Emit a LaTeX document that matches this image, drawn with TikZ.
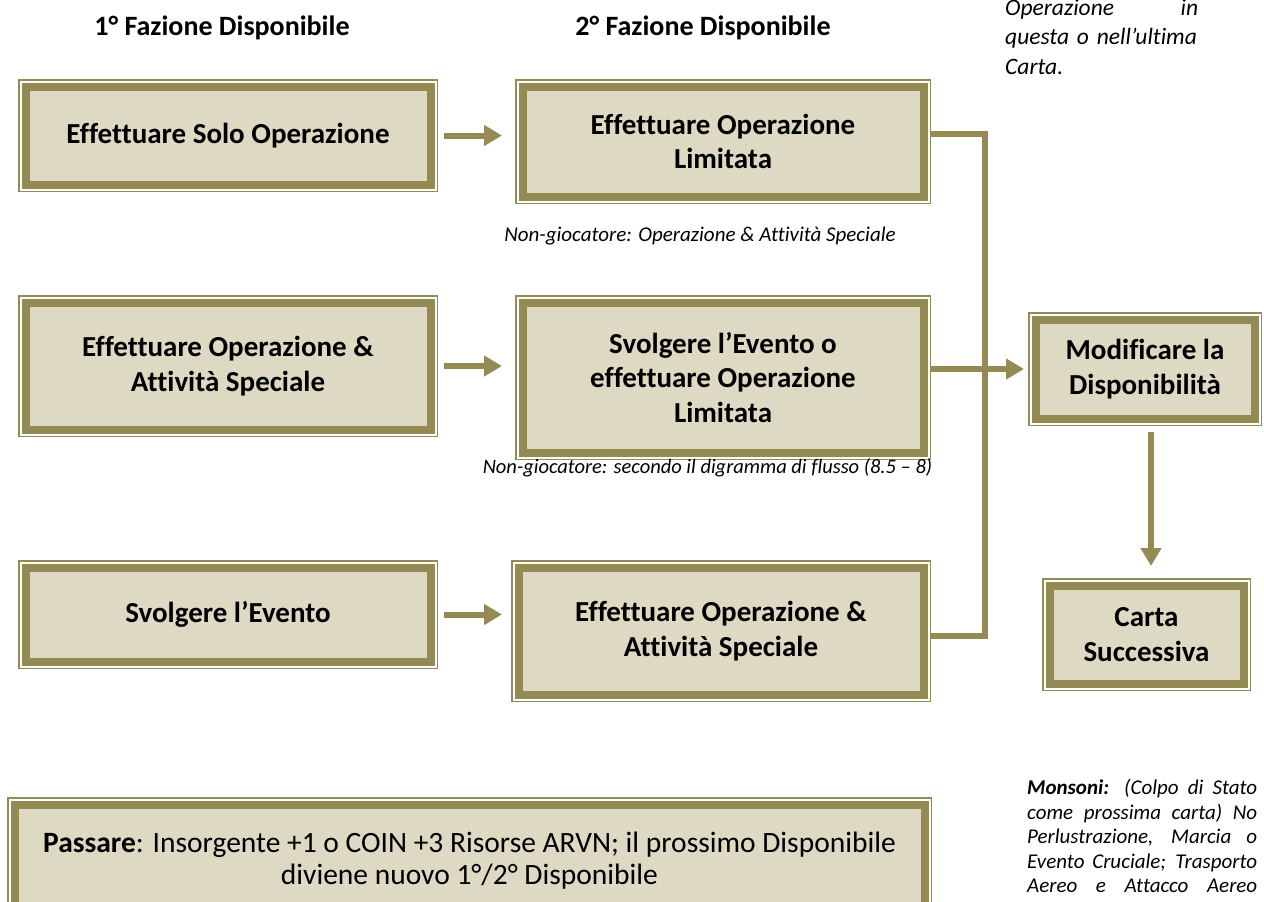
\documentclass[tikz,border=0pt]{standalone}
\usepackage{fontspec}
\setmainfont{Carlito}[Ligatures=NoCommon]
\usetikzlibrary{arrows.meta}
\definecolor{olivebd}{HTML}{948A54}
\definecolor{olivebg}{HTML}{DDD9C3}
\tikzset{
	cardbox/.style={fill=olivebg, draw=olivebd, line width=8pt,
		preaction={draw=olivebd, line width=15pt},
		preaction={draw=white, line width=12pt},
		outer sep=7.5pt, inner sep=0pt, align=center,
		font=\fontsize{29}{34.5}\selectfont\bfseries},
	flow/.style={draw=olivebd, line width=6pt, -{Triangle[length=18pt,width=20pt]}},
	link/.style={draw=olivebd, line width=6pt},
	head/.style={inner sep=0pt, font=\fontsize{28}{30}\selectfont\bfseries},
	note/.style={inner sep=0pt, font=\fontsize{21}{24.5}\selectfont\itshape}
}
\begin{document}
\begin{tikzpicture}[x=1pt,y=-1pt]
				\useasboundingbox (0,0) rectangle (1264,902);
				\clip (0,0) rectangle (1264,902);
				\node [head] (h1) at (222,28) {1° Fazione Disponibile};
				\node [head] (h2) at (703,28) {2° Fazione Disponibile};
				\node [cardbox, minimum width=405, minimum height=98] (a1) at (228,135.5) {Effettuare Solo Operazione};
				\node [cardbox, minimum width=401, minimum height=110] (b1) at (723,141.5) {Effettuare Operazione\\Limitata};
				\node [cardbox, minimum width=405, minimum height=127] (a2) at (228,366) {Effettuare Operazione \&\\Attività Speciale};
				\node [cardbox, minimum width=401, minimum height=150] (b2) at (723,377.5) {Svolgere l’Evento o\\effettuare Operazione\\Limitata};
				\node [cardbox, minimum width=405, minimum height=94] (a3) at (228,614.5) {Svolgere l’Evento};
				\node [cardbox, minimum width=405, minimum height=127] (b3) at (721,631) {Effettuare Operazione \&\\Attività Speciale};
				\node [cardbox, minimum width=219, minimum height=99] (m) at (1145,369) {Modificare la\\Disponibilità};
				\node [cardbox, minimum width=194, minimum height=98] (c) at (1146.5,634.5) {Carta\\Successiva};
				\node [cardbox, minimum width=910, minimum height=113, font=\fontsize{29.5}{32}\selectfont] (pass) at (469.5,861) {\textbf{Passare}: Insorgente +1 o COIN +3 Risorse ARVN; il prossimo Disponibile\\diviene nuovo 1°/2° Disponibile};
				\node [note] (n1) at (700,236) {Non-giocatore: Operazione \& Attività Speciale};
				\node [note, font=\fontsize{20.5}{24.5}\selectfont\itshape] (n2) at (707.5,468) {Non-giocatore: secondo il digramma di flusso (8.5 – 8)};
				\node [note, anchor=north west, text width=193pt, align=left, font=\fontsize{23.5}{29.5}\selectfont\itshape] (n3) at (1005,-1) {Operazione \hfill in\\questa o nell’ultima\\Carta.};
				\node [note, anchor=north west, text width=230pt, align=justify] (n4) at (1027,779) {\textbf{Monsoni:} (Colpo di Stato\linebreak come prossima carta) No\linebreak Perlustrazione, Marcia o\linebreak Evento Cruciale; Trasporto\linebreak Aereo \hfill e \hfill Attacco \hfill Aereo};
				\draw [flow, shorten <=6pt, shorten >=13pt] (a1.east) -- (a1.east -| b1.west);
				\draw [flow, shorten <=6pt, shorten >=13pt] (a2.east) -- (a2.east -| b2.west);
				\draw [flow, shorten <=6pt, shorten >=9pt] (a3.east) -- (a3.east -| b3.west);
				\draw [flow, shorten >=4pt] (m.west -| b2.east) -- (m.west);
				\draw [flow, shorten <=6pt, shorten >=12pt] ([xshift=6pt]m.south) -- ([xshift=6pt]m.south |- c.north);
				\draw [link] ([yshift=7.5pt]b1.east) -| ([xshift=54pt,yshift=-5pt]b3.east) -- ([yshift=-5pt]b3.east);
\end{tikzpicture}
\end{document}
